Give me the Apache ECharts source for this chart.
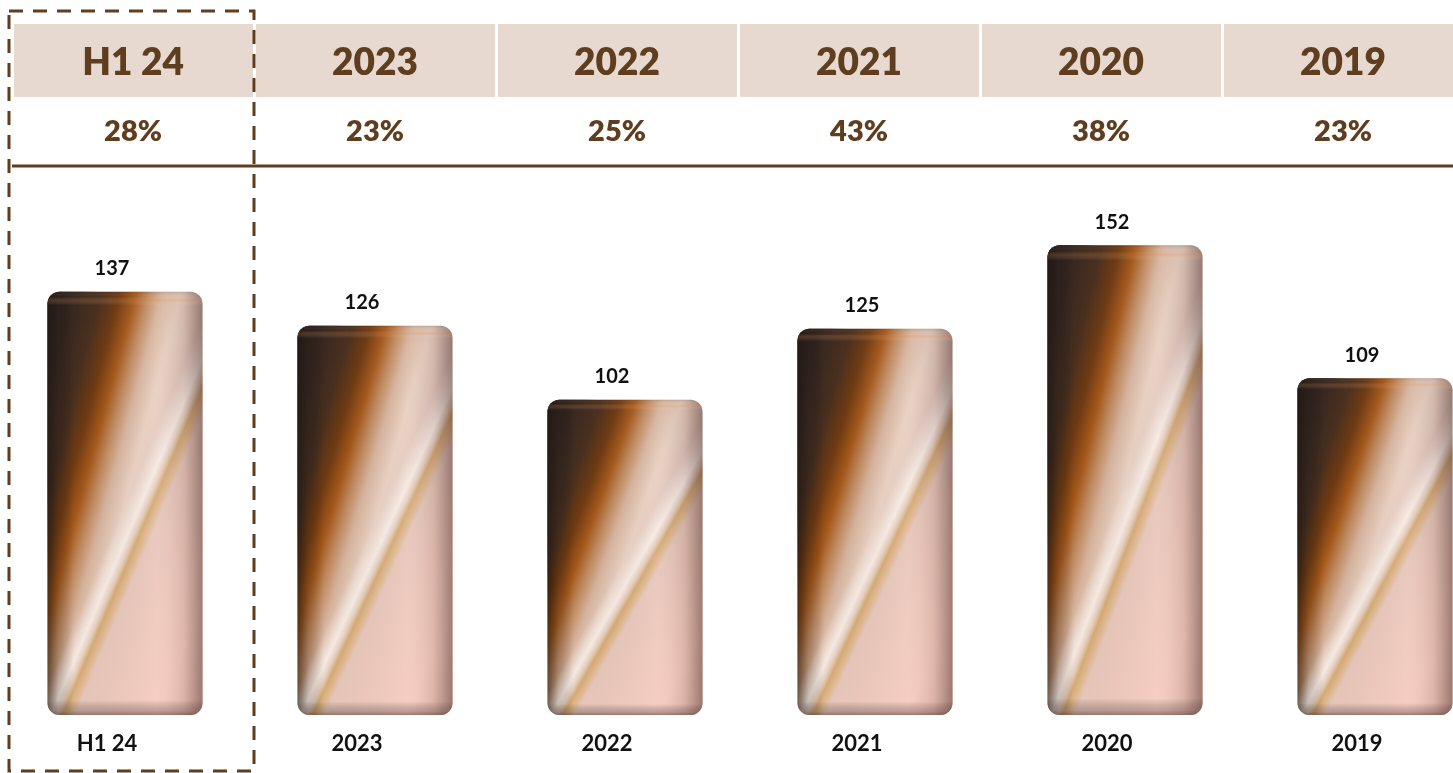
<!DOCTYPE html>
<html>
<head>
<meta charset="utf-8">
<script src="https://cdn.jsdelivr.net/npm/echarts@6/dist/echarts.min.js"></script>
<style>
html,body{margin:0;padding:0;background:#fff;}
#c{width:1453px;height:773px;}
</style>
</head>
<body>
<div id="c"></div>
<script>
const categories = ['H1 24', '2023', '2022', '2021', '2020', '2019'];
const values = [137, 126, 102, 125, 152, 109];
const percents = [28, 23, 25, 43, 38, 23];

const BROWN = '#5f3e1f';
const FONT = 'Lato, "Open Sans", sans-serif';
const BAR_W = 155;
const Y_MAX = 160;
const GRID_TOP = 220.6, GRID_BOTTOM = 58, CHART_H = 773;
const GRID_H = CHART_H - GRID_TOP - GRID_BOTTOM;

// diagonal gradient whose iso-lines are fixed in the bar's own (normalised) box
function diag(A, B, h, stops) {
  const w = BAR_W;
  const s = h * w / (A * A * h * h + B * B * w * w);
  const P = A * h * s, Q = B * w * s;
  return {type: 'linear', x: 0, y: 0, x2: P / w, y2: Q / h, colorStops: stops};
}

const baseStops = [
  {offset: 0, color: '#3a2820'},
  {offset: 0.2, color: '#4a3020'},
  {offset: 0.27, color: '#6e3a12'},
  {offset: 0.33, color: '#a5581a'},
  {offset: 0.38, color: '#c08a60'},
  {offset: 0.43, color: '#d6b49e'},
  {offset: 0.5, color: '#e8d0c2'},
  {offset: 0.6, color: '#e2c6bc'},
  {offset: 1, color: '#dcc0b8'}
];
const darkStops = [
  {offset: 0, color: 'rgba(40,30,27,1)'},
  {offset: 0.1, color: 'rgba(52,38,32,1)'},
  {offset: 0.15, color: 'rgba(60,42,32,0.9)'},
  {offset: 0.22, color: 'rgba(70,45,25,0)'},
  {offset: 1, color: 'rgba(70,45,25,0)'}
];
const streakStops = [
  {offset: 0, color: 'rgba(245,235,228,0)'},
  {offset: 0.5, color: 'rgba(245,235,228,0)'},
  {offset: 0.548, color: 'rgba(249,240,234,0.85)'},
  {offset: 0.567, color: 'rgba(230,208,192,0.85)'},
  {offset: 0.583, color: 'rgba(212,166,108,0.9)'},
  {offset: 0.597, color: 'rgba(220,178,130,0.9)'},
  {offset: 0.62, color: 'rgba(231,198,186,1)'},
  {offset: 0.72, color: 'rgba(238,200,188,1)'},
  {offset: 0.86, color: 'rgba(246,203,192,1)'},
  {offset: 1, color: 'rgba(240,194,182,1)'}
];

const sideShade = {
  type: 'linear', x: 0, y: 0, x2: 1, y2: 0,
  colorStops: [
    {offset: 0, color: 'rgba(30,20,15,0.55)'},
    {offset: 0.07, color: 'rgba(30,20,15,0.2)'},
    {offset: 0.17, color: 'rgba(0,0,0,0)'},
    {offset: 0.7, color: 'rgba(255,255,255,0.05)'},
    {offset: 0.88, color: 'rgba(90,60,55,0.15)'},
    {offset: 1, color: 'rgba(70,45,40,0.5)'}
  ]
};
const rimShade = {
  type: 'linear', x: 0, y: 0, x2: 0, y2: 1,
  colorStops: [
    {offset: 0, color: 'rgba(60,40,30,0.15)'},
    {offset: 0.012, color: 'rgba(255,200,150,0)'},
    {offset: 0.02, color: 'rgba(230,140,70,0.22)'},
    {offset: 0.032, color: 'rgba(255,255,255,0)'},
    {offset: 0.965, color: 'rgba(0,0,0,0)'},
    {offset: 0.99, color: 'rgba(70,50,45,0.3)'},
    {offset: 1, color: 'rgba(60,40,35,0.5)'}
  ]
};

function shaded(A, B, stops) {
  return values.map(function (v) {
    const h = v * GRID_H / Y_MAX;
    return {value: v, itemStyle: {color: diag(A, B, h, stops)}};
  });
}

function barLayer(data, color, extra) {
  const s = {
    type: 'bar', xAxisIndex: 0, yAxisIndex: 0, data: data, barWidth: BAR_W, barGap: '-100%',
    itemStyle: {borderRadius: 12}
  };
  if (color) s.itemStyle.color = color;
  return Object.assign(s, extra || {});
}

const chart = echarts.init(document.getElementById('c'), null, {renderer: 'canvas'});
const option = {
  backgroundColor: '#ffffff',
  animation: false,
  grid: [
    {left: 0, width: 1500, top: GRID_TOP, bottom: GRID_BOTTOM, containLabel: false, outerBoundsMode: 'none'},
    {left: 12, width: 1452, top: 24, height: 73, containLabel: false, outerBoundsMode: 'none'}
  ],
  xAxis: [
    {
      type: 'category', gridIndex: 0, data: categories,
      axisLine: {show: false}, axisTick: {show: false},
      axisLabel: {margin: 18, fontSize: 22, fontWeight: 'bold', color: '#111', fontFamily: FONT, padding: [0, 36, 0, 0]}
    },
    {
      type: 'category', gridIndex: 1, data: categories, position: 'top',
      axisLine: {show: false}, axisTick: {show: false},
      axisLabel: {inside: true, margin: 21, fontSize: 37, fontWeight: 800, color: BROWN, fontFamily: FONT},
      splitArea: {show: true, interval: 0, areaStyle: {color: ['#e7d9d0']}},
      splitLine: {show: true, interval: 0, lineStyle: {color: '#ffffff', width: 3}}
    },
    {
      type: 'category', gridIndex: 1, data: categories, position: 'bottom',
      axisLine: {show: false}, axisTick: {show: false},
      axisLabel: {margin: 20, fontSize: 29, fontWeight: 800, color: BROWN, fontFamily: FONT,
        formatter: function (v, i) { return percents[i] + '%'; }}
    }
  ],
  yAxis: [
    {type: 'value', gridIndex: 0, min: 0, max: Y_MAX, show: false},
    {type: 'value', gridIndex: 1, min: 0, max: 1, show: false}
  ],
  series: [
    barLayer(shaded(0.5765, 0.4235, baseStops)),
    barLayer(shaded(0.6667, 0.3333, darkStops)),
    barLayer(shaded(0.4625, 0.5375, streakStops)),
    barLayer(values, sideShade),
    barLayer(values, rimShade, {
      label: {show: true, position: 'top', distance: 13, offset: [-13, 0],
        fontSize: 20, fontWeight: 'bold', color: '#111', fontFamily: FONT}
    })
  ],
  graphic: [
    {type: 'line', z: 100, shape: {x1: 12, y1: 166, x2: 1453, y2: 166},
      style: {stroke: BROWN, lineWidth: 3}},
    {type: 'rect', z: 101, shape: {x: 9, y: 11, width: 245, height: 760},
      style: {fill: 'none', stroke: BROWN, lineWidth: 3, lineDash: [14, 10]}}
  ]
};
chart.setOption(option);
</script>
</body>
</html>
